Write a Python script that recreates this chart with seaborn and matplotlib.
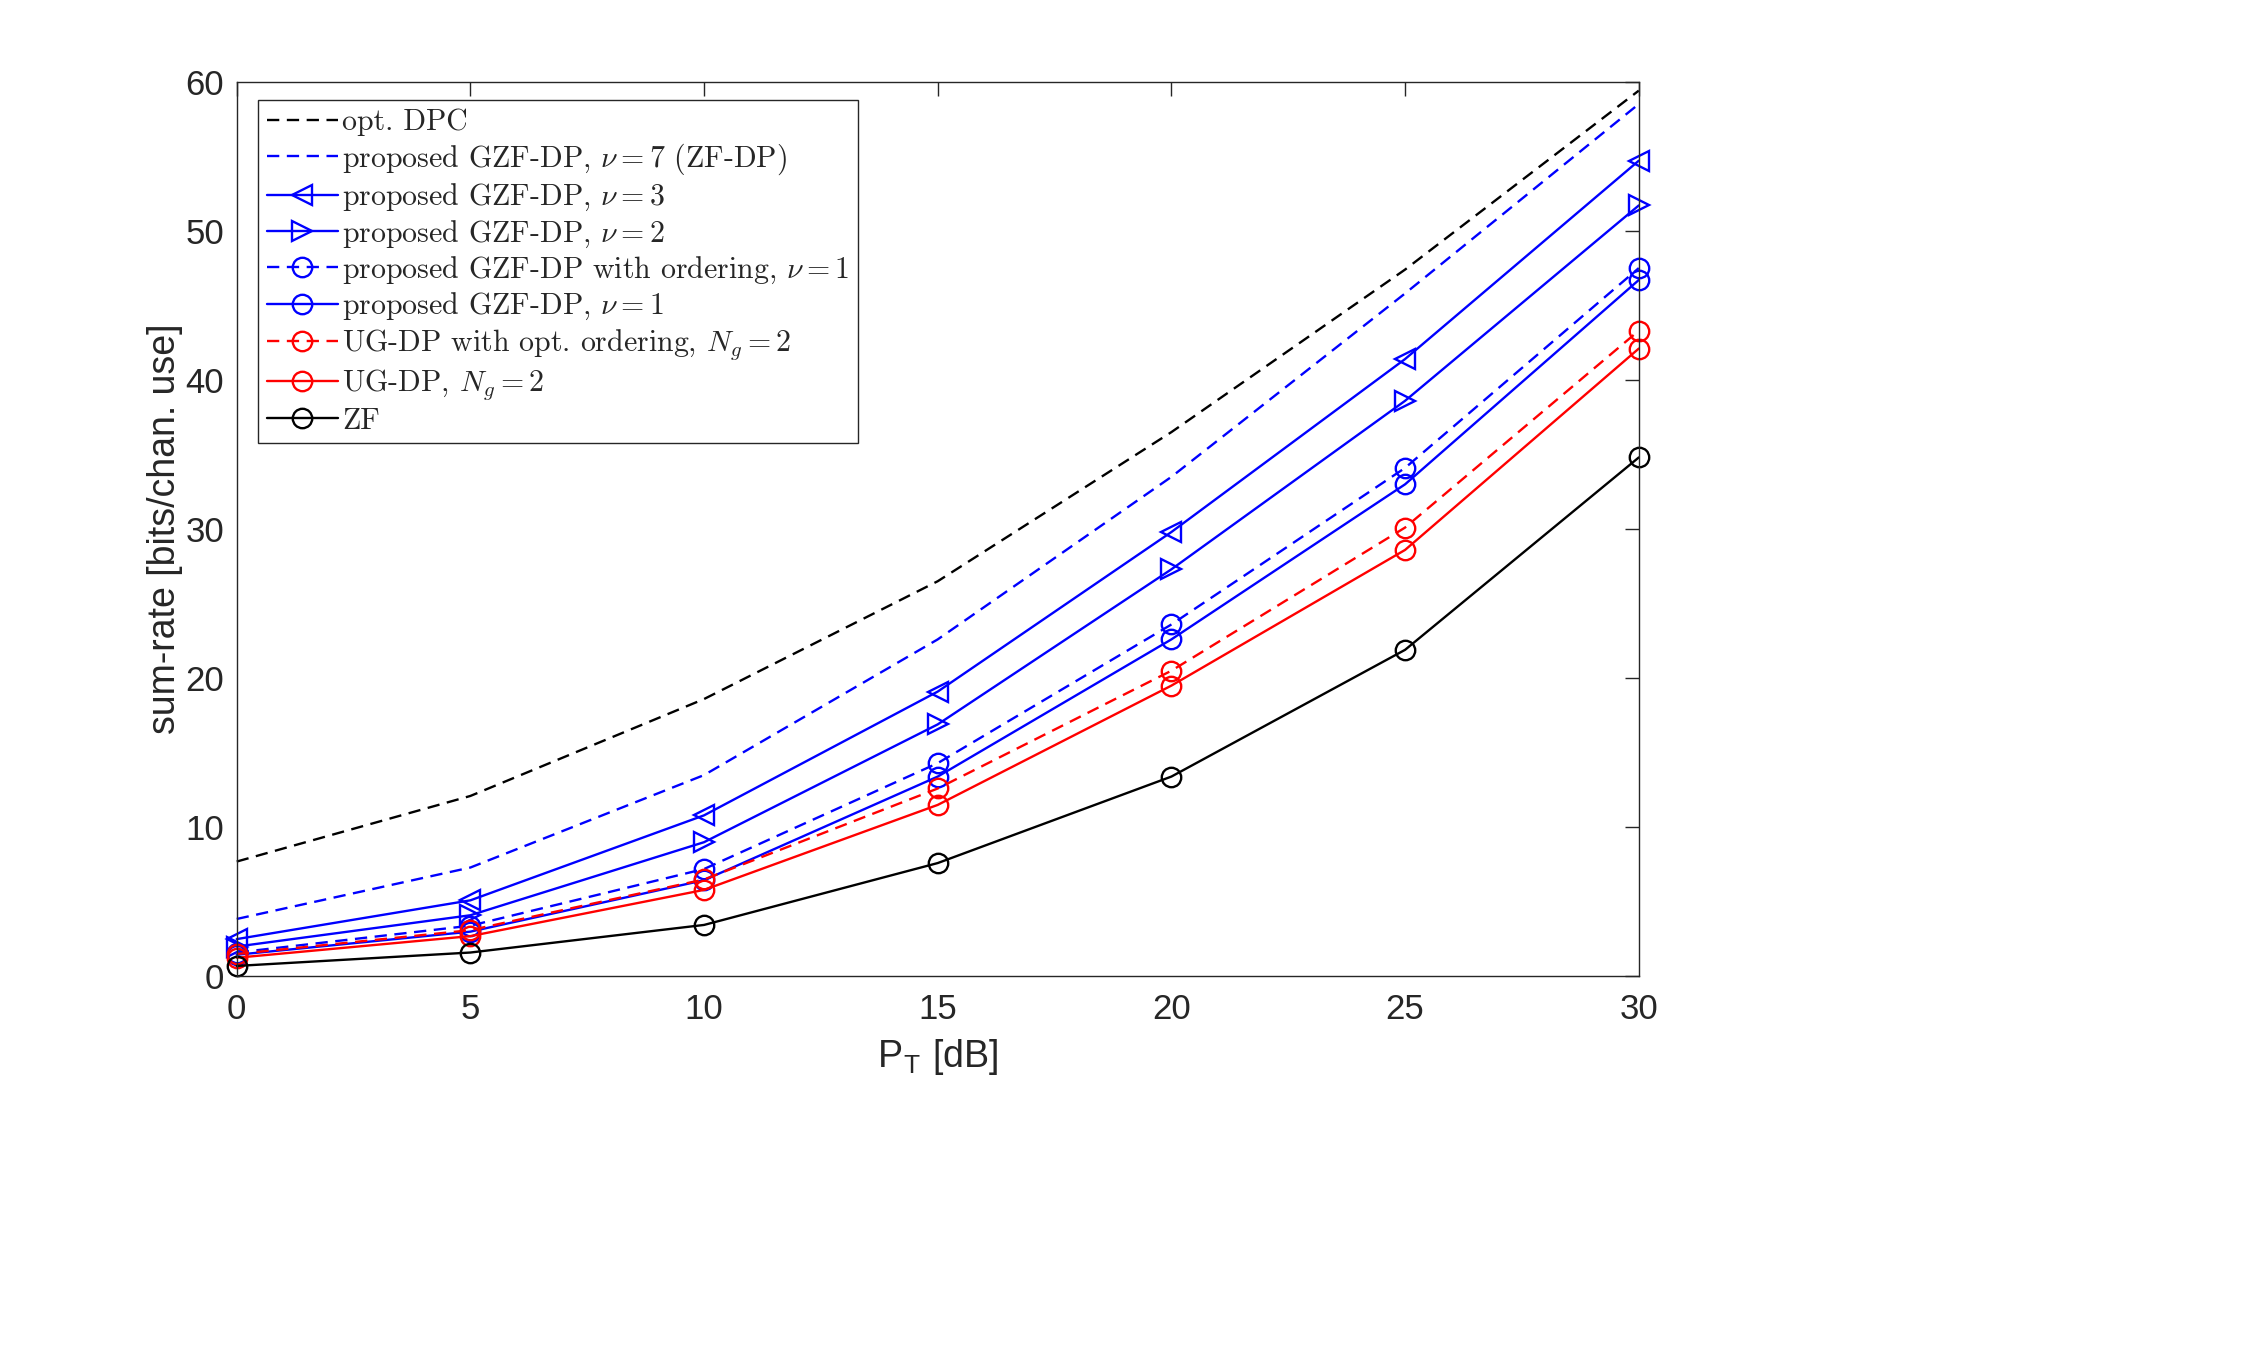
import numpy as np
import matplotlib
matplotlib.use("Agg")
import matplotlib.pyplot as plt
import pandas as pd
import seaborn as sns

# data
p_t = [0, 5, 10, 15, 20, 25, 30]
opt_dpc = [7.7, 12.1, 18.6, 26.5, 36.5, 47.4, 59.4]
gzf_nu7 = [3.85, 7.3, 13.5, 22.6, 33.5, 45.8, 58.5]
gzf_nu3 = [2.5, 5.1, 10.8, 19.1, 29.8, 41.4, 54.7]
gzf_nu2 = [2.0, 4.1, 9.0, 16.9, 27.3, 38.6, 51.7]
gzf_ord_nu1 = [1.6, 3.4, 7.2, 14.3, 23.6, 34.1, 47.5]
gzf_nu1 = [1.45, 3.0, 6.45, 13.4, 22.6, 33.0, 46.7]
ug_ord = [1.5, 3.1, 6.5, 12.6, 20.5, 30.1, 43.3]
ug = [1.25, 2.7, 5.8, 11.5, 19.5, 28.6, 42.1]
zf = [0.7, 1.6, 3.45, 7.6, 13.4, 21.9, 34.8]

labels = [
    "opt. DPC",
    r"proposed GZF-DP, $\nu=7$ (ZF-DP)",
    r"proposed GZF-DP, $\nu=3$",
    r"proposed GZF-DP, $\nu=2$",
    r"proposed GZF-DP with ordering, $\nu=1$",
    r"proposed GZF-DP, $\nu=1$",
    r"UG-DP with opt. ordering, $N_g=2$",
    r"UG-DP, $N_g=2$",
    "ZF",
]
series = [opt_dpc, gzf_nu7, gzf_nu3, gzf_nu2, gzf_ord_nu1, gzf_nu1, ug_ord, ug, zf]
colors = ["k", "b", "b", "b", "b", "b", "r", "r", "k"]
dashed = (0, (5.2, 3.2))
styles = [dashed, dashed, "-", "-", dashed, "-", dashed, "-", "-"]
markers = [None, None, "<", ">", "o", "o", "o", "o", "o"]

sns.set_style("white")
plt.rcParams["font.family"] = ["Liberation Sans", "DejaVu Sans"]
plt.rcParams["mathtext.fontset"] = "cm"

fig = plt.figure(figsize=(22.48, 13.61), dpi=100)
ax = fig.add_axes([0.1053, 0.2826, 0.6237, 0.6574])

for y, lab, c, ls, m in zip(series, labels, colors, styles, markers):
    kw = dict(color=c, linestyle=ls, linewidth=1.7, label=lab, clip_on=False)
    if m is not None:
        kw.update(marker=m, markersize=14, markerfacecolor="none",
                  markeredgecolor=c, markeredgewidth=1.7)
    sns.lineplot(x=p_t, y=y, ax=ax, **kw)

ax.set_xlim(0, 30)
ax.set_ylim(0, 60)
ax.set_xticks([0, 5, 10, 15, 20, 25, 30])
ax.set_yticks([0, 10, 20, 30, 40, 50, 60])
axis_col = "#262626"
ax.tick_params(direction="in", length=10, width=1.0, top=True, right=True,
               labelsize=25, colors=axis_col)
ax.tick_params(axis="x", pad=12)
ax.tick_params(axis="y", pad=9)
for s in ax.spines.values():
    s.set_color(axis_col)
    s.set_linewidth(1.0)

ax.set_xlabel(r"P$_\mathregular{T}$ [dB]", fontsize=27, color=axis_col, labelpad=8)
ax.set_ylabel("sum-rate [bits/chan. use]", fontsize=27, color=axis_col, labelpad=2)

leg = ax.legend(loc="upper left", bbox_to_anchor=(0.0155, 0.9795),
                prop={"family": "cmr10", "size": 21.5}, handlelength=2.35,
                labelspacing=0.17, handletextpad=0.15, borderpad=0.3,
                fancybox=False, framealpha=1, borderaxespad=0)
leg.get_frame().set_edgecolor(axis_col)
leg.get_frame().set_linewidth(1.0)

fig.savefig("out.png", dpi=100)
